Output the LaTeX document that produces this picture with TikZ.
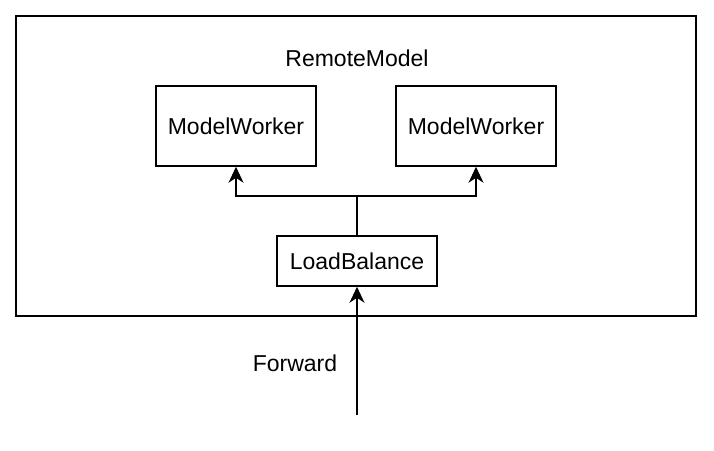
\documentclass[tikz,border=0pt]{standalone}
\usepackage{fontspec}
\setmainfont{Liberation Sans}
\usetikzlibrary{arrows.meta}
\tikzset{
  box/.style={draw,line width=1.5pt,minimum width=160pt,minimum height=80pt,inner sep=0pt},
  link/.style={line width=1.5pt,-{Stealth[length=16pt,width=15pt,inset=5pt]}}
}
\begin{document}
\begin{tikzpicture}[x=1pt,y=-1pt,font=\fontsize{23}{27}\selectfont]
			\useasboundingbox (0,0) rectangle (714,450);
			%Outer box
			\draw[line width=1.5pt] (16,16) rectangle (696,316);
			\node (remote) at (357,58) {RemoteModel};
			%Workers
			\node[box] (workerA) at (236,126) {ModelWorker};
			\node[box] (workerB) at (476,126) {ModelWorker};
			%Balancer
			\node[box,minimum height=50pt] (balance) at (357,261) {LoadBalance};
			\coordinate (split) at (357,196);
			\coordinate (source) at (357,415);
			%Links
			\draw[line width=1.5pt] (balance.north) -- (split);
			\foreach \w in {workerA,workerB}
				{
					\draw[link] (split) -| (\w.south);
				}
			\draw[link] (source) -- (balance.south);
			\node (forward) at (295,363) {Forward};
		\end{tikzpicture}
\end{document}
